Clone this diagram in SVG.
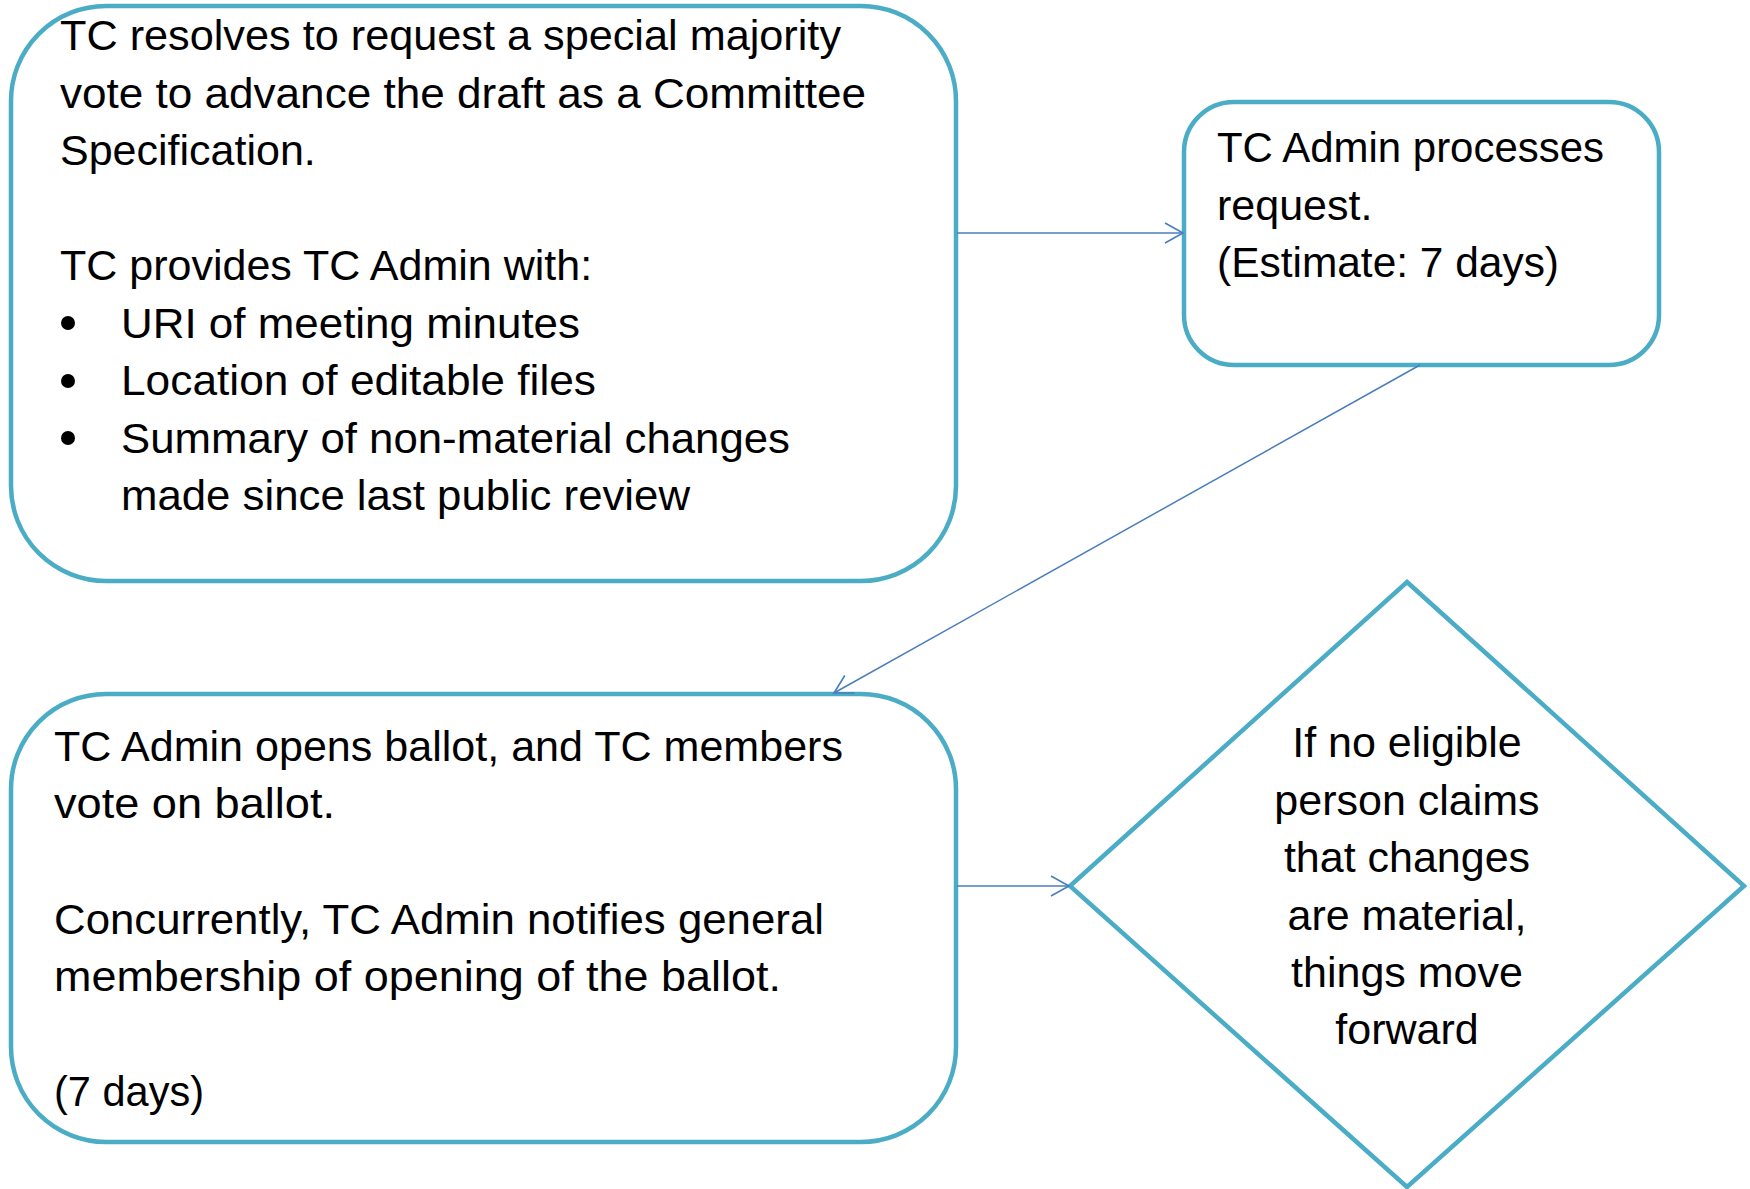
<svg xmlns="http://www.w3.org/2000/svg" width="1750" height="1189" viewBox="0 0 1750 1189">
<style>
.box{fill:#ffffff;stroke:#4BACC6;stroke-width:4.5;}
.t{font-family:"Liberation Sans",Arial,sans-serif;font-size:43px;fill:#000000;}
.c{text-anchor:middle;}
.conn{stroke:#4A7EBB;stroke-width:1.5;fill:none;}
</style>
<defs>
<marker id="arr" markerUnits="userSpaceOnUse" markerWidth="24" markerHeight="24" refX="18" refY="10" orient="auto" overflow="visible">
<path d="M0,0 L18,10 L0,20" fill="none" stroke="#4A7EBB" stroke-width="1.6"/>
</marker>
</defs>
<rect width="1750" height="1189" fill="#ffffff"/>
<g id="node-request">
<rect class="box" x="11" y="6" width="945" height="575" rx="95" ry="95"/>
<text class="t" x="60" y="50" textLength="781" lengthAdjust="spacingAndGlyphs">TC resolves to request a special majority</text>
<text class="t" x="60" y="108" textLength="806" lengthAdjust="spacingAndGlyphs">vote to advance the draft as a Committee</text>
<text class="t" x="60" y="165">Specification.</text>
<text class="t" x="60" y="280">TC provides TC Admin with:</text>
<circle cx="68" cy="323" r="7"/>
<text class="t" x="121" y="338" textLength="459" lengthAdjust="spacingAndGlyphs">URI of meeting minutes</text>
<circle cx="68" cy="381" r="7"/>
<text class="t" x="121" y="395" textLength="475" lengthAdjust="spacingAndGlyphs">Location of editable files</text>
<circle cx="68" cy="438" r="7"/>
<text class="t" x="121" y="453" textLength="669" lengthAdjust="spacingAndGlyphs">Summary of non-material changes</text>
<text class="t" x="121" y="510" textLength="569" lengthAdjust="spacingAndGlyphs">made since last public review</text>
</g>
<g id="node-admin">
<rect class="box" x="1184" y="102" width="475" height="263" rx="50" ry="50"/>
<text class="t" x="1217" y="162" textLength="387" lengthAdjust="spacingAndGlyphs">TC Admin processes</text>
<text class="t" x="1217" y="220">request.</text>
<text class="t" x="1217" y="277" textLength="342" lengthAdjust="spacingAndGlyphs">(Estimate: 7 days)</text>
</g>
<g id="node-ballot">
<rect class="box" x="11" y="694" width="945" height="448" rx="95" ry="95"/>
<text class="t" x="54" y="761" textLength="789" lengthAdjust="spacingAndGlyphs">TC Admin opens ballot, and TC members</text>
<text class="t" x="54" y="818" textLength="281" lengthAdjust="spacingAndGlyphs">vote on ballot.</text>
<text class="t" x="54" y="934" textLength="770" lengthAdjust="spacingAndGlyphs">Concurrently, TC Admin notifies general</text>
<text class="t" x="54" y="991" textLength="727" lengthAdjust="spacingAndGlyphs">membership of opening of the ballot.</text>
<text class="t" x="54" y="1106" textLength="150" lengthAdjust="spacingAndGlyphs">(7 days)</text>
</g>
<g id="node-decision">
<polygon class="box" points="1407,582 1744,886 1407,1187 1070,886"/>
<text class="t c" x="1407" y="757">If no eligible</text>
<text class="t c" x="1407" y="815">person claims</text>
<text class="t c" x="1407" y="872">that changes</text>
<text class="t c" x="1407" y="930">are material,</text>
<text class="t c" x="1407" y="987">things move</text>
<text class="t c" x="1407" y="1044">forward</text>
</g>
<g id="connectors">
<line class="conn" x1="957" y1="233" x2="1183" y2="233" marker-end="url(#arr)"/>
<line class="conn" x1="1420" y1="365" x2="834" y2="693" marker-end="url(#arr)"/>
<line class="conn" x1="957" y1="886" x2="1069" y2="886" marker-end="url(#arr)"/>
</g>
</svg>
